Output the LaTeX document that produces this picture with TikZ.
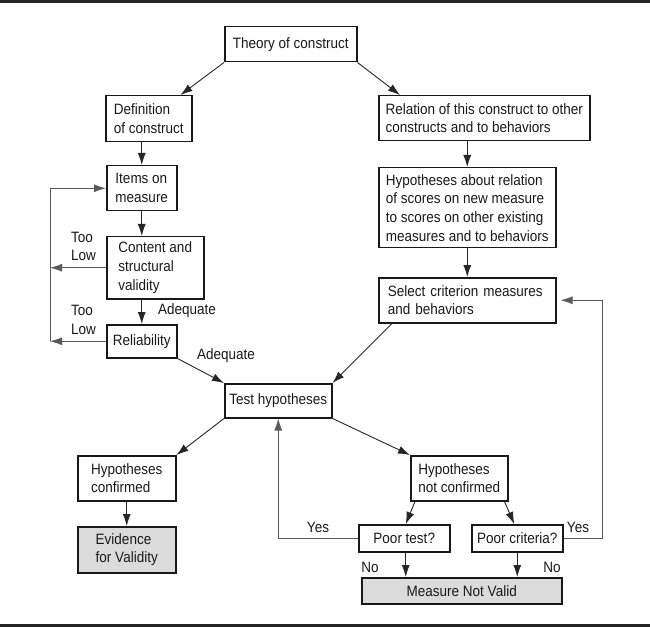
\documentclass[tikz,border=0pt]{standalone}
\usepackage{fontspec}
\setmainfont{Liberation Sans}[FakeStretch=0.9]
\usetikzlibrary{arrows.meta}
\begin{document}
\begin{tikzpicture}[x=1pt,y=-1pt,
  every node/.style={font=\fontsize{15}{18.7}\selectfont, text=black!90},
  bx/.style 2 args={draw=black!90, line width=1.5pt, anchor=north west, align=left,
    inner sep=0pt, minimum width=#1, minimum height=#2},
  ctr/.style={align=center},
  grayfill/.style={fill=black!14},
  arr/.style={draw=black!85, line width=0.9pt, -{Latex[length=12pt,width=8pt]}},
  fbk/.style={draw=black!65, line width=0.9pt},
  fbkarr/.style={fbk, -{Latex[length=12pt,width=8pt]}},
  lbl/.style={inner sep=0pt, align=left}
]
\useasboundingbox (0,0) rectangle (650,628);
% rules
\draw[line width=3pt, black!85] (0,1.5) -- (650,1.5);
\draw[line width=3pt, black!85] (0,625.5) -- (650,625.5);

% boxes
\node[bx={132}{35}, ctr] (theory) at (224,26) {Theory of construct};
\node[bx={86}{46}] (def) at (105,95) {Definition\\of construct};
\node[bx={70}{45}] (items) at (106,165) {Items on\\measure};
\node[bx={97}{62}] (content) at (106,236) {Content and\\structural\\validity};
\node[bx={70}{33}, ctr] (rel) at (106,324) {Reliability};
\node[bx={211}{45}] (relation) at (378,95) {Relation of this construct to other\\constructs and to behaviors};
\node[bx={177}{80}] (hyp) at (378,167) {Hypotheses about relation\\of scores on new measure\\to scores on other existing\\measures and to behaviors};
\node[bx={177}{45}, text width=159pt, inner xsep=9pt] (select) at (378,277) {Select criterion measures\\and behaviors};
\node[bx={107}{34}, ctr] (test) at (224,383) {Test hypotheses};
\node[bx={98}{45}] (conf) at (77,455) {Hypotheses\\confirmed};
\node[bx={98}{46}, grayfill] (evid) at (77,526) {Evidence\\for Validity};
\node[bx={97}{45}] (notconf) at (410,455) {Hypotheses\\not confirmed};
\node[bx={91}{27}, ctr] (poortest) at (358,524) {Poor test?};
\node[bx={91}{27}, ctr] (poorcrit) at (471,524) {Poor criteria?};
\node[bx={200}{26}, ctr, grayfill] (mnv) at (361,577) {Measure Not Valid};

% labels
\node[lbl, anchor=west] (too1) at (71,246.5) {Too\\Low};
\node[lbl, anchor=west] (too2) at (71,320) {Too\\Low};
\node[lbl, anchor=west] (adq1) at (158,311) {Adequate};
\node[lbl, anchor=west] (adq2) at (197,356) {Adequate};
\node[lbl] (yes1) at (318,527) {Yes};
\node[lbl] (yes2) at (578,527) {Yes};
\node[lbl] (no1) at (370,567) {No};
\node[lbl] (no2) at (552,567) {No};

% helper coordinates
\coordinate (fb) at (50,0);
\coordinate (rc) at (602,0);

% connectors
\draw[arr] (theory.south west) -- ([xshift=-12pt]def.north east);
\draw[arr] (theory.south east) -- ([xshift=22pt]relation.north west);
\draw[arr] (items.north |- def.south) -- (items.north);
\draw[arr] (items.south) -- (items.south |- content.north);
\draw[arr] (rel.north |- content.south) -- (rel.north);
\draw[arr] (hyp.north |- relation.south) -- (hyp.north);
\draw[arr] (hyp.south) -- (select.north);
\draw[arr] (rel.south east) -- (test.north west);
\draw[arr] ([xshift=14pt]select.south west) -- (test.north east);
\draw[arr] (test.south west) -- (conf.north east);
\draw[arr] (test.south east) -- (notconf.north west);
\draw[arr] (conf.south) -- (evid.north);
\draw[arr] ([xshift=5pt]notconf.south west) -- ([xshift=1.5pt]poortest.north);
\draw[arr] ([xshift=-4pt]notconf.south east) -- ([xshift=-3pt]poorcrit.north);
\draw[arr] ([xshift=1.5pt]poortest.south) -- ([xshift=1.5pt]poortest.south |- mnv.north);
\draw[arr] (poorcrit.south) -- (poorcrit.south |- mnv.north);

% feedback loops
\draw[fbkarr] (content.west) -- (content.west -| fb);
\draw[fbkarr] (rel.west) -- (rel.west -| fb);
\draw[fbkarr] (rel.west -| fb) |- (items.west);
\draw[fbkarr] (poortest.west) -| (test.south);
\draw[fbkarr, shorten >=4pt] (poorcrit.east) -- (poorcrit.east -| rc) |- (select.east);
\end{tikzpicture}
\end{document}
